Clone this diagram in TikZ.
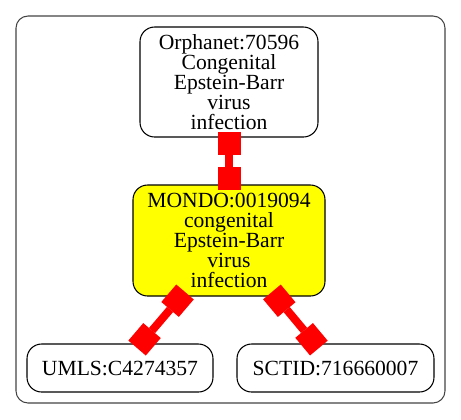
\documentclass[tikz,border=0pt]{standalone}
\usepackage{fontspec}
\setmainfont{Liberation Serif}
\usetikzlibrary{arrows.meta}
\definecolor{LinkRed}{HTML}{FF0000}
\definecolor{MondoYellow}{HTML}{FFFF00}
\definecolor{Frame}{HTML}{444444}

\begin{document}
\begin{tikzpicture}[x=0.75pt,y=-0.75pt,
    >={Square[length=17.25pt,width=17.25pt,line width=0pt]},
    term/.style={draw,line width=0.8pt,rounded corners=11pt,align=center,inner sep=0pt,
      font=\fontsize{16.2}{15}\selectfont},
    link/.style={<->,line width=6pt,LinkRed,shorten <=-4.5pt,shorten >=-4.5pt}]
    \useasboundingbox (0,0) rectangle (461,419);
    % Outer cluster
    \draw[Frame,line width=0.8pt,rounded corners=9pt] (16,16) rectangle (445,403);

    % Terms
    \node[term,minimum width=133.5pt,minimum height=82.5pt] (orpha) at (229,82)
        {Orphanet:70596\\Congenital\\Epstein-Barr\\virus\\infection};
    \node[term,fill=MondoYellow,minimum width=144pt,minimum height=83.25pt] (mondo) at (229,240.5)
        {MONDO:0019094\\congenital\\Epstein-Barr\\virus\\infection};
    \node[term,minimum width=139.5pt,minimum height=36pt] (umls) at (120,368) {UMLS:C4274357};
    \node[term,minimum width=147.75pt,minimum height=36pt] (sctid) at (335.5,368) {SCTID:716660007};

    % Links
    \draw[link] (orpha) -- (mondo);
    \draw[link] (mondo) -- (umls);
    \draw[link] (mondo) -- (sctid);
\end{tikzpicture}
\end{document}
